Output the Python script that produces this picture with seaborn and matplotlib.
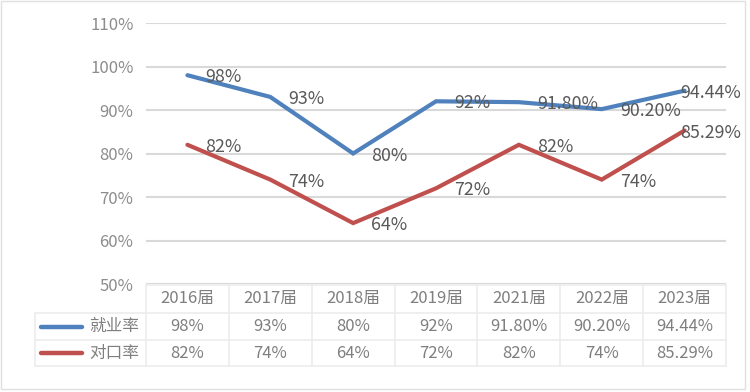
import numpy as np
import pandas as pd
import matplotlib
matplotlib.use("Agg")
import matplotlib.pyplot as plt
import matplotlib.transforms as mtransforms
import seaborn as sns

# data
years = ["2016届", "2017届", "2018届", "2019届", "2021届", "2022届", "2023届"]
employment = [98, 93, 80, 92, 91.8, 90.2, 94.44]
matching = [82, 74, 64, 72, 82, 74, 85.29]
employment_labels = ["98%", "93%", "80%", "92%", "91.80%", "90.20%", "94.44%"]
matching_labels = ["82%", "74%", "64%", "72%", "82%", "74%", "85.29%"]
series_names = ["就业率", "对口率"]
y_ticks = [50, 60, 70, 80, 90, 100, 110]

colors = ["#4f81bd", "#c0504d"]

sns.set_theme(style="white")
plt.rcParams['font.family'] = ['Noto Sans CJK SC', 'DejaVu Sans']

df = pd.DataFrame({
    "year": years * 2,
    "idx": list(range(len(years))) * 2,
    "value": employment + matching,
    "series": [series_names[0]] * len(years) + [series_names[1]] * len(years),
})

W, H = 750, 392
fig = plt.figure(figsize=(W / 100, H / 100), dpi=100)
ax = fig.add_axes([146 / W, 1 - 284 / H, 580 / W, 261 / H])

sns.lineplot(data=df, x="idx", y="value", hue="series", palette=colors,
             linewidth=3, ax=ax, legend=False, sort=False)
for line in ax.lines:
    line.set_solid_capstyle('round')
    line.set_solid_joinstyle('miter')

ax.set_xlim(-0.5, len(years) - 0.5)
ax.set_ylim(50, 110)
ax.set_yticks(y_ticks)
ax.set_yticklabels([f"{t}%" for t in y_ticks], color="#8c8c8c", fontsize=12)
ax.set_xticks([])
ax.set_xlabel("")
ax.set_ylabel("")
ax.tick_params(axis='y', length=0, pad=9)
for s in ax.spines.values():
    s.set_visible(False)
for t in y_ticks:
    ax.axhline(t, color="#d9d9d9", linewidth=1.5, zorder=0)

# data labels right of the points (last one pulled back inside the chart)
n = len(years)
for vals, labs in [(employment, employment_labels), (matching, matching_labels)]:
    for i, (v, lab) in enumerate(zip(vals, labs)):
        dx = 13 if i < n - 1 else -3
        ax.annotate(lab, (i, v), xytext=(dx, -1.5), textcoords="offset points",
                    ha="left", va="center", fontsize=12.8, color="#595959")

# data table below the axes
tr = mtransforms.blended_transform_factory(ax.transData, fig.transFigure)
fy = lambda px: 1 - px / H
row_tops = [285, 313, 340, 366]
grid_c = "#ececec"
edges = np.arange(n + 1) - 0.5
ax_x0 = ax.get_position().x0
ax_x1 = ax.get_position().x1
for k, y in enumerate(row_tops):
    fig.add_artist(plt.Line2D([ax_x0 if k == 0 else 35 / W, ax_x1],
                              [fy(y), fy(y)], transform=fig.transFigure,
                              color=grid_c, linewidth=1.2))
for e in edges:
    fig.add_artist(plt.Line2D([e, e], [fy(row_tops[0]), fy(row_tops[-1])],
                              transform=tr, color=grid_c, linewidth=1.2))
fig.add_artist(plt.Line2D([35 / W, 35 / W], [fy(row_tops[1]), fy(row_tops[-1])],
                          transform=fig.transFigure, color=grid_c, linewidth=1.2))

table_c = "#7f7f7f"
for i, y in enumerate(years):
    fig.text(i, fy((row_tops[0] + row_tops[1]) / 2), y, transform=tr,
             ha="center", va="center", fontsize=12, color=table_c)
    fig.text(i, fy((row_tops[1] + row_tops[2]) / 2), employment_labels[i], transform=tr,
             ha="center", va="center", fontsize=12, color=table_c)
    fig.text(i, fy((row_tops[2] + row_tops[3]) / 2), matching_labels[i], transform=tr,
             ha="center", va="center", fontsize=12, color=table_c)

for r, (name, c) in enumerate(zip(series_names, colors)):
    yc = fy((row_tops[r + 1] + row_tops[r + 2]) / 2)
    fig.add_artist(plt.Line2D([41 / W, 82 / W], [yc, yc], transform=fig.transFigure,
                              color=c, linewidth=3.2, solid_capstyle='round'))
    fig.text(89 / W, yc, name, ha="left", va="center", fontsize=12, color=table_c)

# outer border
fig.add_artist(plt.Rectangle((1 / W, 1 - 389 / H), 744 / W, 388 / H,
                             transform=fig.transFigure,
                             fill=False, edgecolor="#e0e0e0", linewidth=1))

fig.savefig("out.png", dpi=100)
